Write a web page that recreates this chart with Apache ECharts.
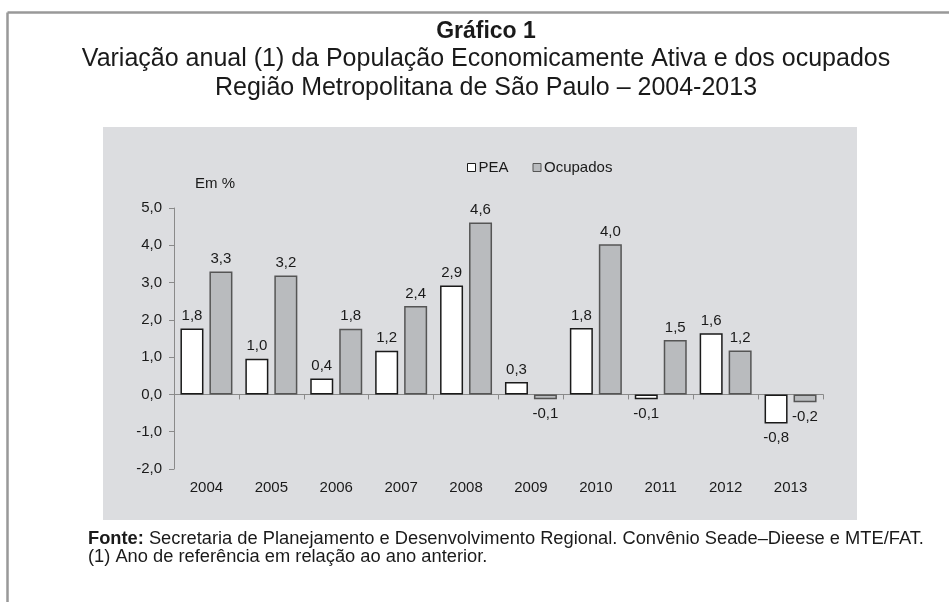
<!DOCTYPE html>
<html>
<head>
<meta charset="utf-8">
<script src="https://cdn.jsdelivr.net/npm/echarts@6/dist/echarts.min.js"></script>
<style>
html,body{margin:0;padding:0;background:#fff;}
#c{width:949px;height:602px;}
</style>
</head>
<body>
<div id="c"></div>
<script>
var categories = ['2004','2005','2006','2007','2008','2009','2010','2011','2012','2013'];
var peaValues = [1.77, 0.96, 0.43, 1.17, 2.92, 0.33, 1.78, -0.13, 1.64, -0.78];
var ocupadosValues = [3.30, 3.19, 1.76, 2.37, 4.61, -0.13, 4.03, 1.46, 1.18, -0.21];
var seriesNames = ['PEA', 'Ocupados'];

var FONT = '"Liberation Sans", Arial, Helvetica, sans-serif';
function fmt(v){ return v.toFixed(1).replace('.', ','); }
function makeData(vals){
  return vals.map(function(v){
    return { value: v, label: { position: v < 0 ? 'bottom' : 'top', distance: v < 0 ? 7 : 5 } };
  });
}

var chart = echarts.init(document.getElementById('c'), null, {renderer:'canvas'});
var option = {
  animation: false,
  backgroundColor: '#ffffff',
  grid: { left: 174, right: 126, top: 208, bottom: 133, containLabel: false, outerBoundsMode: 'none' },
  legend: {
    left: 462, top: 155,
    itemWidth: 8, itemHeight: 8, itemGap: 24,
    icon: 'rect',
    textStyle: { fontFamily: FONT, fontSize: 15, color: '#1a1a1a', padding: [0,0,0,-2] },
    data: [
      { name: 'PEA', itemStyle: { color: '#ffffff', borderColor: '#1a1a1a', borderWidth: 1 } },
      { name: 'Ocupados', itemStyle: { color: '#b9bbbe', borderColor: '#555555', borderWidth: 1 } }
    ]
  },
  xAxis: [
    {
      type: 'category', data: categories, position: 'bottom',
      axisLine: { show: false, onZero: false },
      axisTick: { show: false },
      axisLabel: { fontFamily: FONT, fontSize: 15, color: '#1a1a1a', margin: 11 },
      splitLine: { show: false }
    },
    {
      type: 'category', data: categories, position: 'bottom',
      axisLine: { show: true, onZero: true, lineStyle: { color: '#8a8a8a', width: 1 } },
      axisTick: { show: true, length: 5, inside: false, lineStyle: { color: '#8a8a8a' } },
      axisLabel: { show: false },
      splitLine: { show: false }
    }
  ],
  yAxis: {
    type: 'value', min: -2, max: 5, interval: 1,
    axisLine: { show: true, lineStyle: { color: '#8a8a8a', width: 1 } },
    axisTick: { show: true, length: 5, lineStyle: { color: '#8a8a8a' } },
    axisLabel: { fontFamily: FONT, fontSize: 15, color: '#1a1a1a', margin: 12, formatter: function(v){ return fmt(v); } },
    splitLine: { show: false }
  },
  series: [
    {
      name: seriesNames[0], type: 'bar', xAxisIndex: 0,
      barWidth: 23, barGap: '26%',
      itemStyle: { color: '#ffffff', borderColor: '#1a1a1a', borderWidth: 1.5 },
      label: { show: true, fontFamily: FONT, fontSize: 15, color: '#1a1a1a', formatter: function(p){ return fmt(p.value); } },
      data: makeData(peaValues)
    },
    {
      name: seriesNames[1], type: 'bar', xAxisIndex: 0,
      barWidth: 23, barGap: '26%',
      itemStyle: { color: '#b9bbbe', borderColor: '#555555', borderWidth: 1.5 },
      label: { show: true, fontFamily: FONT, fontSize: 15, color: '#1a1a1a', formatter: function(p){ return fmt(p.value); } },
      data: makeData(ocupadosValues)
    }
  ],
  graphic: [
    { type: 'rect', z: -10, shape: { x: 103, y: 127, width: 754, height: 393 }, style: { fill: '#dcdde0' } },
    { type: 'line', z: 10, shape: { x1: 7.5, y1: 12.5, x2: 949, y2: 12.5 }, style: { stroke: '#999999', lineWidth: 2.5 } },
    { type: 'line', z: 10, shape: { x1: 7.5, y1: 12.5, x2: 7.5, y2: 602 }, style: { stroke: '#999999', lineWidth: 2.5 } },
    { type: 'text', x: 486, y: 32, style: { text: 'Gráfico 1', fontFamily: FONT, fontSize: 23, fontWeight: 'bold', fill: '#1a1a1a', align: 'center', verticalAlign: 'middle' } },
    { type: 'text', x: 486, y: 59, style: { text: 'Variação anual (1) da População Economicamente Ativa e dos ocupados', fontFamily: FONT, fontSize: 25, fill: '#1a1a1a', align: 'center', verticalAlign: 'middle' } },
    { type: 'text', x: 486, y: 88, style: { text: 'Região Metropolitana de São Paulo – 2004-2013', fontFamily: FONT, fontSize: 25, fill: '#1a1a1a', align: 'center', verticalAlign: 'middle' } },
    { type: 'text', x: 195, y: 184, style: { text: 'Em %', fontFamily: FONT, fontSize: 15, fill: '#1a1a1a', align: 'left', verticalAlign: 'middle' } },
    { type: 'text', x: 88, y: 539, style: { text: '{b|Fonte:} Secretaria de Planejamento e Desenvolvimento Regional. Convênio Seade–Dieese e MTE/FAT.', fontFamily: FONT, fontSize: 18.3, fill: '#1a1a1a', align: 'left', verticalAlign: 'middle', rich: { b: { fontFamily: FONT, fontSize: 18.3, fontWeight: 'bold', fill: '#1a1a1a' } } } },
    { type: 'text', x: 88, y: 557, style: { text: '(1) Ano de referência em relação ao ano anterior.', fontFamily: FONT, fontSize: 18.3, fill: '#1a1a1a', align: 'left', verticalAlign: 'middle' } }
  ]
};
chart.setOption(option);
</script>
</body>
</html>
